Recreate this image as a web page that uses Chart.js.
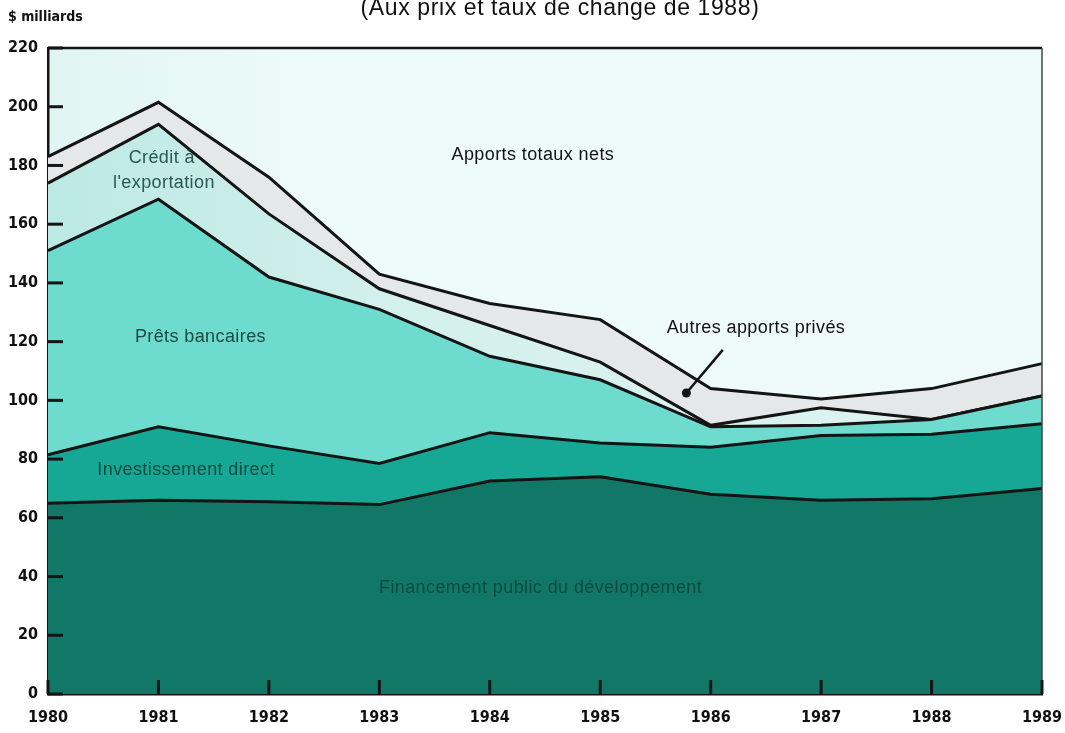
<!DOCTYPE html>
<html>
<head>
<meta charset="utf-8">
<script src="https://cdn.jsdelivr.net/npm/chart.js@4/dist/chart.umd.min.js"></script>
<style>
  html, body { margin: 0; padding: 0; background: #fff; }
  #wrap { width: 1065px; height: 733px; position: relative; }
</style>
</head>
<body>
<div id="wrap"><canvas id="flows"></canvas></div>
<script>
// years on the x axis
const years = ['1980', '1981', '1982', '1983', '1984', '1985', '1986', '1987', '1988', '1989']
const yTicks = [0, 20, 40, 60, 80, 100, 120, 140, 160, 180, 200, 220]

// $ milliards, each layer on top of the one below
const financementPublic = [65, 66, 65.5, 64.5, 72.5, 74, 68, 66, 66.5, 70]
const investissementDirect = [16.5, 25, 19, 14, 16.5, 11.5, 16, 22, 22, 22]
const pretsBancaires = [69.5, 77.5, 57.5, 52.5, 26, 21.5, 7, 3.5, 5, 9.5]
const creditExportation = [23, 25.5, 21.5, 7, 10.5, 6, 0.5, 6, 0, 0]
const autresApportsPrives = [9, 7.5, 12.5, 5, 7.5, 14.5, 12.5, 3, 10.5, 11]

// labels written inside the chart: [text, x index, y value, colour]
const notes = [
  ['Crédit à', 1.03, 182.5, '#285953'],
  ["l'exportation", 1.05, 174, '#285953'],
  ['Apports totaux nets', 4.39, 183.6, '#111'],
  ['Prêts bancaires', 1.38, 121.6, '#1d4a45'],
  ['Investissement direct', 1.25, 76.3, '#0b4c44'],
  ['Financement public du développement', 4.46, 36.1, '#0b4a42'],
  ['Autres apports privés', 6.41, 124.7, '#111'],
]

const lineColor = '#141414'
const narrow = '"DejaVu Sans Condensed", "Liberation Sans", sans-serif'
const sans = '"Liberation Sans", Arial, sans-serif'

const creditFill = (ctx) => {
  const area = ctx.chart.chartArea
  if (!area) return '#cdeeea'
  const g = ctx.chart.ctx.createLinearGradient(area.left, 0, area.right, 0)
  g.addColorStop(0, '#bce9e4')
  g.addColorStop(0.35, '#d3f0ed')
  g.addColorStop(1, '#dff4f2')
  return g
}

const layer = (label, data, fill, bg) => ({
  label,
  data,
  fill,
  backgroundColor: bg,
  borderColor: lineColor,
  borderWidth: 3,
  pointRadius: 0,
  tension: 0,
})

const decorations = {
  id: 'decorations',
  beforeDraw(chart) {
    const { ctx, chartArea: a } = chart
    const g = ctx.createLinearGradient(a.left, a.top, a.right, a.top)
    g.addColorStop(0, '#e0f5f3')
    g.addColorStop(0.3, '#eefbfb')
    g.addColorStop(1, '#eefafa')
    ctx.save()
    ctx.fillStyle = g
    ctx.fillRect(a.left, a.top, a.right - a.left, a.bottom - a.top)
    ctx.restore()
  },
  afterDatasetsDraw(chart) {
    const { ctx, chartArea: a, scales } = chart
    const x = scales.x
    const y = scales.y
    ctx.save()

    // frame
    ctx.strokeStyle = lineColor
    ctx.lineWidth = 2.5
    ctx.beginPath()
    ctx.moveTo(a.left, a.top)
    ctx.lineTo(a.right, a.top)
    ctx.stroke()
    ctx.lineWidth = 1.5
    ctx.strokeStyle = '#444'
    ctx.beginPath()
    ctx.moveTo(a.right, a.top)
    ctx.lineTo(a.right, a.bottom)
    ctx.stroke()

    // inward tick marks
    ctx.strokeStyle = lineColor
    ctx.lineWidth = 3
    y.ticks.forEach((t, i) => {
      const py = y.getPixelForTick(i)
      ctx.beginPath()
      ctx.moveTo(a.left, py)
      ctx.lineTo(a.left + 15, py)
      ctx.stroke()
    })
    x.ticks.forEach((t, i) => {
      const px = x.getPixelForTick(i)
      ctx.beginPath()
      ctx.moveTo(px, a.bottom)
      ctx.lineTo(px, a.bottom - 14)
      ctx.stroke()
    })

    // labels inside the plot
    ctx.textAlign = 'center'
    ctx.textBaseline = 'middle'
    ctx.letterSpacing = '0.4px'
    notes.forEach(([text, xi, yv, color]) => {
      ctx.font = '18px ' + sans
      ctx.fillStyle = color
      ctx.fillText(text, x.getPixelForValue(xi), y.getPixelForValue(yv))
    })

    // pointer for "Autres apports privés"
    const x0 = x.getPixelForValue(6.11), y0 = y.getPixelForValue(117.2)
    const x1 = x.getPixelForValue(5.78), y1 = y.getPixelForValue(102.5)
    ctx.lineWidth = 2.5
    ctx.beginPath()
    ctx.moveTo(x0, y0)
    ctx.lineTo(x1, y1)
    ctx.stroke()
    ctx.fillStyle = lineColor
    ctx.beginPath()
    ctx.arc(x1, y1, 4.5, 0, Math.PI * 2)
    ctx.fill()

    // heading texts
    ctx.fillStyle = '#111'
    ctx.font = '23px ' + sans
    ctx.letterSpacing = '0.6px'
    ctx.textBaseline = 'alphabetic'
    ctx.fillText('(Aux prix et taux de change de 1988)', 560, 15)
    ctx.textAlign = 'left'
    ctx.letterSpacing = '0px'
    ctx.font = 'bold 14px ' + narrow
    ctx.fillText('$ milliards', 8, 21)
    ctx.restore()
  },
}

new Chart(document.getElementById('flows'), {
  type: 'line',
  data: {
    labels: years,
    datasets: [
      layer('Financement public du développement', financementPublic, 'origin', '#117868'),
      layer('Investissement direct', investissementDirect, '-1', '#17a795'),
      layer('Prêts bancaires', pretsBancaires, '-1', '#6ddbcd'),
      layer("Crédit à l'exportation", creditExportation, '-1', creditFill),
      layer('Autres apports privés', autresApportsPrives, '-1', '#e5e8e9'),
    ],
  },
  options: {
    responsive: true,
    maintainAspectRatio: false,
    animation: false,
    layout: { padding: { top: 48, right: 23, left: 0, bottom: 0 } },
    plugins: {
      legend: { display: false },
      tooltip: { enabled: false },
    },
    scales: {
      x: {
        offset: false,
        grid: { display: false, drawTicks: false },
        border: { display: true, color: lineColor, width: 2.5 },
        ticks: {
          color: '#111',
          font: { family: narrow, size: 16, weight: 'bold' },
          padding: 14,
          maxRotation: 0,
          autoSkip: false,
        },
        afterFit: (s) => {
          s.height = 39
          s.paddingLeft = 0
          s.paddingRight = 0
        },
      },
      y: {
        stacked: true,
        min: 0,
        max: 220,
        afterBuildTicks: (s) => { s.ticks = yTicks.map((v) => ({ value: v })) },
        grid: { display: false, drawTicks: false },
        border: { display: true, color: lineColor, width: 2.5 },
        ticks: {
          color: '#111',
          font: { family: narrow, size: 16, weight: 'bold' },
          padding: 10,
        },
        afterFit: (s) => {
          s.width = 48
          s.paddingTop = 0
          s.paddingBottom = 0
        },
      },
    },
  },
  plugins: [decorations],
})
</script>
</body>
</html>
